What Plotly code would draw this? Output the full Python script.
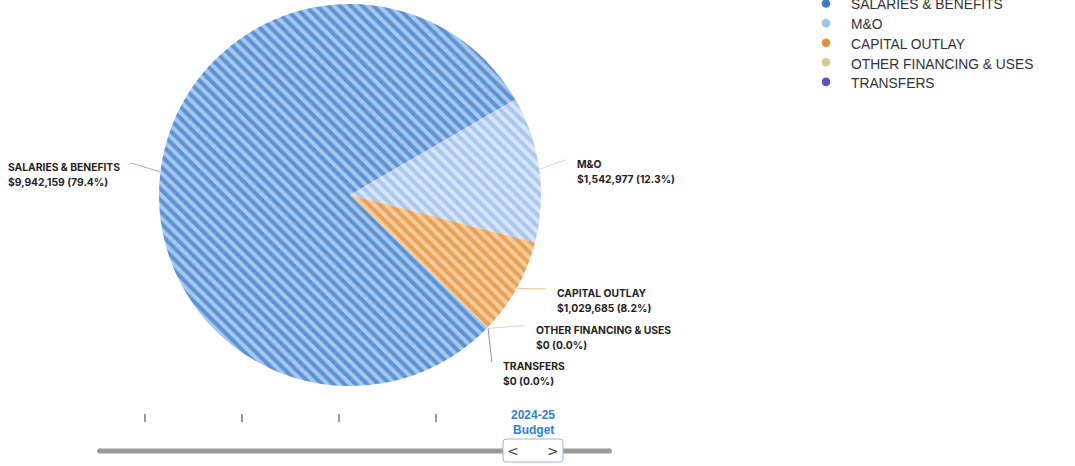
import math
import plotly.graph_objects as go

# ---------------- data ----------------
categories = ["SALARIES & BENEFITS", "M&O", "CAPITAL OUTLAY", "OTHER FINANCING & USES", "TRANSFERS"]
values = [9942159, 1542977, 1029685, 0, 0]
colors = ["#5b93d4", "#a9c8f0", "#e8a155", "#d9c98c", "#6a56b2"]
stripe_colors = ["#a6c7ee", "#d8e6f8", "#f5cd9d", "#eee5c4", "#ab9fd9"]
legend_colors = ["#3d7bc7", "#9cc3ec", "#e0913b", "#d8c98a", "#6652b0"]
periods = ["2020-21", "2021-22", "2022-23", "2023-24", "2024-25"]
period_kind = "Budget"
active_period = 4

# ---------------- geometry helpers ----------------
W, H = 1075, 466


def px(x):
    return x / W


def py(y):
    return 1 - y / H


cx, cy, R = 350, 195, 191
RL = 230          # label radius
ROT = 134         # start angle of first slice (clockwise from 12 o'clock)
GAP = 36.5        # min vertical gap between labels
YMAX = 366
RIGHT_PAD = -3    # extra horizontal offset for right-side labels

fig = go.Figure()
fig.add_trace(go.Pie(
    labels=categories, values=values, sort=False, direction="clockwise", rotation=ROT,
    marker=dict(colors=colors, line=dict(width=0),
                pattern=dict(shape="\\", fillmode="replace", bgcolor=colors,
                             fgcolor=stripe_colors, fgopacity=1, size=8, solidity=0.5)),
    textinfo="none", showlegend=False,
    domain=dict(x=[px(cx - R), px(cx + R)], y=[py(cy + R), py(cy - R)]),
))

# ---------------- outside labels with connectors ----------------
total = sum(values)
items = []
ang = ROT
for name, v, c in zip(categories, values, colors):
    frac = v / total
    mid = ang + frac * 360 / 2
    ang += frac * 360
    th = math.radians(mid)
    side = 1 if math.sin(th) >= 0 else -1
    items.append(dict(name=name, v=v, pct=frac * 100, c=c, th=th, side=side,
                      y=cy - RL * math.cos(th)))

shapes = []
annotations = []
LINE = 15.0
base_font = dict(family="Inter, Lato, sans-serif", size=LINE / 1.3, color="#1f1f1f")
span = '<span style="font-size:10.3px"><b>%s</b></span>'

for side in (1, -1):
    grp = sorted([it for it in items if it["side"] == side], key=lambda d: d["y"])
    for i in range(1, len(grp)):
        grp[i]["y"] = max(grp[i]["y"], grp[i - 1]["y"] + GAP)
    if grp:
        grp[-1]["y"] = min(grp[-1]["y"], YMAX)
        for i in range(len(grp) - 2, -1, -1):
            grp[i]["y"] = min(grp[i]["y"], grp[i + 1]["y"] - GAP)

for it in items:
    y = it["y"]
    dy = y - cy
    x = cx + it["side"] * math.sqrt(max(RL ** 2 - dy ** 2, 0))
    if it["side"] > 0:
        x += RIGHT_PAD
    ex = cx + (R + 1) * math.sin(it["th"])
    ey = cy - (R + 1) * math.cos(it["th"])
    shapes.append(dict(type="line", xref="paper", yref="paper",
                       x0=px(ex), y0=py(ey), x1=px(x - it["side"] * 9), y1=py(y - 4),
                       line=dict(color=it["c"], width=1), opacity=0.7))
    anchor = "left" if it["side"] > 0 else "right"
    value_txt = "$%s (%.1f%%)" % (format(it["v"], ",.0f"), it["pct"])
    annotations.append(dict(xref="paper", yref="paper", x=px(x), y=py(y + LINE / 2),
                            xanchor=anchor, yanchor="middle", align="left", showarrow=False,
                            text=(span % it["name"]) + "<br>" + (span % value_txt),
                            font=base_font))

# ---------------- legend (circle markers) ----------------
for i, (name, c) in enumerate(zip(categories, legend_colors)):
    yc = 3.5 + 19.6 * i
    r = 4.3
    shapes.append(dict(type="circle", xref="paper", yref="paper",
                       x0=px(826 - r), x1=px(826 + r), y0=py(yc + r), y1=py(yc - r),
                       fillcolor=c, line=dict(width=0)))
    annotations.append(dict(xref="paper", yref="paper", x=px(849), y=py(5 + 19.7 * i),
                            xanchor="left", yanchor="middle", showarrow=False, text=name,
                            font=dict(family="Liberation Sans, Arial, sans-serif", size=13.8,
                                      color="#333333")))

# ---------------- period slider ----------------
tick0, tick_step = 145, 97
track_x0, track_x1, track_y, cap = 97, 612, 451, 2.5
shapes.append(dict(type="line", xref="paper", yref="paper", x0=px(track_x0 + cap),
                   x1=px(track_x1 - cap), y0=py(track_y), y1=py(track_y),
                   line=dict(color="#9b9b9b", width=5)))
for xe in (track_x0 + cap, track_x1 - cap):
    shapes.append(dict(type="circle", xref="paper", yref="paper", x0=px(xe - cap), x1=px(xe + cap),
                       y0=py(track_y + cap), y1=py(track_y - cap),
                       fillcolor="#9b9b9b", line=dict(width=0)))
for i, p in enumerate(periods):
    tx = tick0 + tick_step * i
    if i == active_period:
        annotations.append(dict(xref="paper", yref="paper", x=px(tx), y=py(415),
                                xanchor="center", yanchor="middle", showarrow=False,
                                text="<b>%s</b>" % p,
                                font=dict(family="Liberation Sans, Arial, sans-serif", size=12,
                                          color="#2f7fd3")))
        annotations.append(dict(xref="paper", yref="paper", x=px(tx), y=py(430),
                                xanchor="center", yanchor="middle", showarrow=False,
                                text="<b>%s</b>" % period_kind,
                                font=dict(family="Liberation Sans, Arial, sans-serif", size=12,
                                          color="#2f7fd3")))
        bx0, bx1, by0, by1, rr = tx - 30, tx + 30, 439, 462, 3
        path = ("M %f,%f L %f,%f Q %f,%f %f,%f L %f,%f Q %f,%f %f,%f L %f,%f Q %f,%f %f,%f "
                "L %f,%f Q %f,%f %f,%f Z") % (
            px(bx0 + rr), py(by0), px(bx1 - rr), py(by0), px(bx1), py(by0), px(bx1), py(by0 + rr),
            px(bx1), py(by1 - rr), px(bx1), py(by1), px(bx1 - rr), py(by1),
            px(bx0 + rr), py(by1), px(bx0), py(by1), px(bx0), py(by1 - rr),
            px(bx0), py(by0 + rr), px(bx0), py(by0), px(bx0 + rr), py(by0))
        shapes.append(dict(type="path", xref="paper", yref="paper", path=path,
                           fillcolor="white", line=dict(color="#9db5cf", width=1)))
        for sym, dx in (("&lt;", -20), ("&gt;", 20)):
            annotations.append(dict(xref="paper", yref="paper", x=px(tx + dx), y=py(451),
                                    xanchor="center", yanchor="middle", showarrow=False,
                                    text=sym,
                                    font=dict(family="DejaVu Sans, sans-serif", size=14,
                                              color="#444444")))
    else:
        shapes.append(dict(type="line", xref="paper", yref="paper", x0=px(tx), x1=px(tx),
                           y0=py(414), y1=py(422), line=dict(color="#777777", width=1.5)))

fig.update_layout(
    width=W, height=H, margin=dict(l=0, r=0, t=0, b=0),
    paper_bgcolor="white", plot_bgcolor="white",
    shapes=shapes, annotations=annotations, showlegend=False,
)

fig.write_html("out.html", config={"displayModeBar": False},
               post_script="document.body.style.margin='0';document.body.style.overflow='hidden';")
